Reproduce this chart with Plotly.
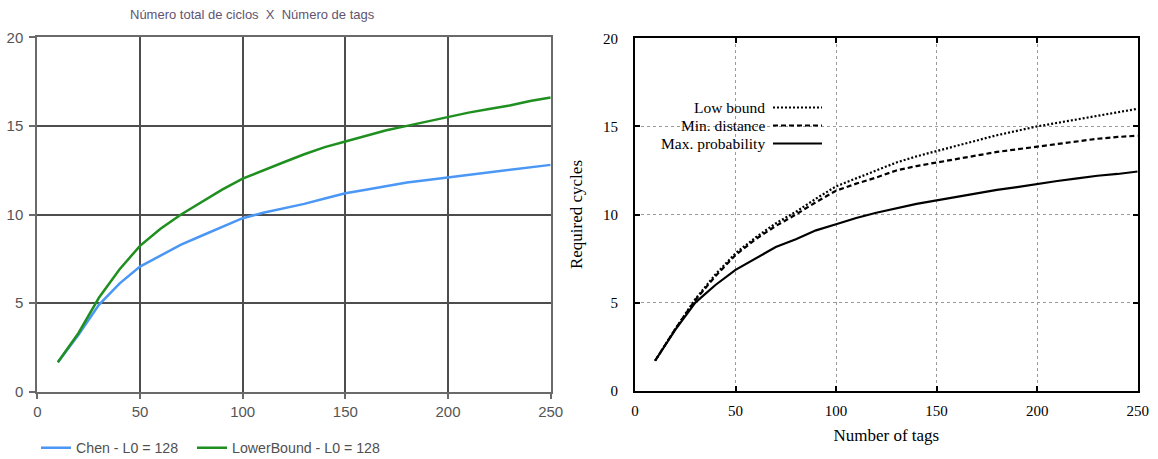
import plotly.graph_objects as go

W, H = 1158, 459

# ---------------- data ----------------
tags = [10, 20, 30, 40, 50, 60, 70, 80, 90, 100, 110, 120, 130, 140, 150,
        160, 170, 180, 190, 200, 210, 220, 230, 240, 250]

# left chart
chen = [1.66, 3.2, 4.9, 6.1, 7.06, 7.7, 8.3, 8.8, 9.3, 9.79, 10.1, 10.35, 10.6,
        10.9, 11.2, 11.4, 11.6, 11.8, 11.95, 12.09, 12.25, 12.4, 12.55, 12.68, 12.8]
lower_bound = [1.66, 3.3, 5.3, 6.9, 8.23, 9.2, 10.0, 10.7, 11.4, 12.02, 12.5, 12.95,
               13.4, 13.8, 14.12, 14.45, 14.75, 15.0, 15.25, 15.5, 15.75, 15.95,
               16.15, 16.4, 16.6]

# right chart
low_bound = [1.7, 3.5, 5.2, 6.6, 7.8, 8.7, 9.5, 10.15, 10.9, 11.6, 12.05, 12.5, 12.95,
             13.3, 13.6, 13.9, 14.2, 14.5, 14.75, 15.0, 15.2, 15.4, 15.6, 15.8, 16.0]
min_distance = [1.7, 3.5, 5.15, 6.5, 7.7, 8.6, 9.35, 10.0, 10.7, 11.35, 11.75, 12.1,
                12.5, 12.75, 12.95, 13.15, 13.35, 13.55, 13.7, 13.86, 14.0, 14.15,
                14.3, 14.4, 14.47]
max_probability = [1.7, 3.45, 5.0, 6.0, 6.86, 7.5, 8.15, 8.6, 9.1, 9.45, 9.8, 10.1,
                   10.36, 10.6, 10.8, 11.0, 11.2, 11.4, 11.55, 11.74, 11.9, 12.05,
                   12.2, 12.3, 12.44]

tick_vals_x = [0, 50, 100, 150, 200, 250]
tick_vals_y = [0, 5, 10, 15, 20]

left_title = "Número total de ciclos  X  Número de tags"
left_names = ["Chen - L0 = 128", "LowerBound - L0 = 128"]
right_names = ["Low bound", "Min. distance", "Max. probability"]
right_xtitle = "Number of tags"
right_ytitle = "Required cycles"


def px(x):
    return x / W


def py(y):
    return 1 - y / H


fig = go.Figure()

# left traces
fig.add_trace(go.Scatter(x=tags, y=chen, mode="lines", name=left_names[0],
                         line=dict(color="#4b97f5", width=2.5),
                         xaxis="x", yaxis="y", legend="legend"))
fig.add_trace(go.Scatter(x=tags, y=lower_bound, mode="lines", name=left_names[1],
                         line=dict(color="#1f9020", width=2.5),
                         xaxis="x", yaxis="y", legend="legend2"))

# right traces
fig.add_trace(go.Scatter(x=tags, y=low_bound, mode="lines", name=right_names[0],
                         line=dict(color="black", width=2.2, dash="2px,2px"),
                         xaxis="x2", yaxis="y2", showlegend=False))
fig.add_trace(go.Scatter(x=tags, y=min_distance, mode="lines", name=right_names[1],
                         line=dict(color="black", width=2.2, dash="5px,3px"),
                         xaxis="x2", yaxis="y2", showlegend=False))
fig.add_trace(go.Scatter(x=tags, y=max_probability, mode="lines", name=right_names[2],
                         line=dict(color="black", width=2.2),
                         xaxis="x2", yaxis="y2", showlegend=False))

left_font = dict(family="Arial, Liberation Sans, sans-serif", size=15, color="#555555")
serif_font = dict(family="Liberation Serif, Times New Roman, serif", size=15, color="black")
legend_font = dict(family="Arial, Liberation Sans, sans-serif", size=14.2, color="#505050")

fig.update_layout(
    width=W, height=H,
    margin=dict(l=0, r=0, t=0, b=0, autoexpand=False),
    paper_bgcolor="white", plot_bgcolor="white",
    showlegend=True,
    legend=dict(orientation="h", x=px(36), xanchor="left", y=py(448), yanchor="middle",
                font=legend_font, bgcolor="rgba(0,0,0,0)", itemwidth=30),
    legend2=dict(orientation="h", x=px(192), xanchor="left", y=py(448), yanchor="middle",
                 font=legend_font, bgcolor="rgba(0,0,0,0)", itemwidth=30),
    xaxis=dict(domain=[px(37.3), px(550.7)], range=[0, 250], tickvals=tick_vals_x,
               showgrid=True, gridcolor="#4d4d4d", gridwidth=2,
               showline=True, linecolor="#6a6a6a", linewidth=2, mirror=True,
               ticks="outside", ticklen=5, tickcolor="#6a6a6a", tickwidth=2,
               tickfont=left_font, zeroline=False, anchor="y", automargin=False,
               ticklabelstandoff=0),
    yaxis=dict(domain=[py(391.7), py(37.3)], range=[0, 20], tickvals=tick_vals_y,
               showgrid=True, gridcolor="#4d4d4d", gridwidth=2,
               showline=True, linecolor="#6a6a6a", linewidth=2, mirror=True,
               ticks="outside", ticklen=6, tickcolor="#6a6a6a", tickwidth=2,
               tickfont=left_font, zeroline=False, anchor="x", automargin=False,
               ticklabelstandoff=3),
    xaxis2=dict(domain=[px(635), px(1137.7)], range=[0, 250], tickvals=tick_vals_x,
                showgrid=True, gridcolor="#9a9a9a", gridwidth=1, griddash="dot",
                showline=True, linecolor="black", linewidth=2, mirror="allticks",
                ticks="inside", ticklen=5, tickcolor="black", tickwidth=2,
                tickfont=serif_font, zeroline=False, anchor="y2", automargin=False,
                ticklabelstandoff=5,
                title=dict(text=right_xtitle,
                           font=dict(family="Liberation Serif, Times New Roman, serif",
                                     size=17, color="black"),
                           standoff=11)),
    yaxis2=dict(domain=[py(390.7), py(38.3)], range=[0, 20], tickvals=tick_vals_y,
                showgrid=True, gridcolor="#9a9a9a", gridwidth=1, griddash="dot",
                showline=True, linecolor="black", linewidth=2, mirror="allticks",
                ticks="inside", ticklen=5, tickcolor="black", tickwidth=2,
                tickfont=serif_font, zeroline=False, anchor="x2", automargin=False,
                ticklabelstandoff=12,
                title=dict(text=right_ytitle,
                           font=dict(family="Liberation Serif, Times New Roman, serif",
                                     size=17, color="black"),
                           standoff=16)),
)

# left title
fig.add_annotation(text=left_title, x=px(252), y=py(15), xref="paper", yref="paper",
                   showarrow=False, xanchor="center", yanchor="middle",
                   font=dict(family="Arial, Liberation Sans, sans-serif", size=13,
                             color="#5e5472"))

# mask of grid behind the right legend (gnuplot key box)
fig.add_shape(type="rect", xref="paper", yref="paper",
              x0=px(660), x1=px(832), y0=py(182), y1=py(80),
              fillcolor="white", line=dict(width=0), layer="between")

# right legend (text on left, sample on right)
legend_rows = [(107.5, "2px,2px"), (125.5, "5px,3px"), (143.5, "solid")]
for name, (yy, dash) in zip(right_names, legend_rows):
    fig.add_annotation(text=name, x=px(767), y=py(yy), xref="paper", yref="paper",
                       showarrow=False, xanchor="right", yanchor="middle",
                       font=dict(family="Liberation Serif, Times New Roman, serif",
                                 size=15.5, color="black"))
    fig.add_shape(type="line", xref="paper", yref="paper",
                  x0=px(773), x1=px(822), y0=py(yy), y1=py(yy),
                  line=dict(color="black", width=2.2, dash=dash))

fig.write_html("out.html",
               config={"displayModeBar": False},
               post_script="document.body.style.margin='0';"
                           "document.body.style.padding='0';")
